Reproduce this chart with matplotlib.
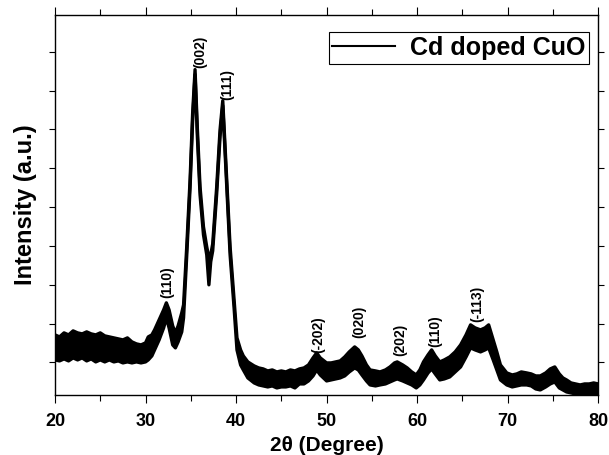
import matplotlib.pyplot as plt
from matplotlib.ticker import MultipleLocator

# 2theta positions and top / bottom of the noisy band (intensity, a.u.)
two_theta = [20.0, 20.5, 21.0, 21.5, 22.0, 22.5, 23.0, 23.5, 24.0, 24.5,
             25.0, 25.5, 26.0, 26.5, 27.0, 27.5, 28.0, 28.5, 29.0, 29.5,
             30.0, 30.3, 30.7, 31.0, 31.5, 32.0, 32.3, 32.6, 33.0, 33.3,
             33.6, 34.0, 34.2, 34.55, 34.92, 35.2, 35.47, 35.73, 36.02, 36.4,
             36.76, 37.0, 37.2, 37.42, 37.86, 38.23, 38.53, 38.97, 39.34, 39.78,
             40.1, 40.5, 40.8, 41.3, 42.0, 42.5, 43.0, 43.5, 44.0, 44.5,
             45.0, 45.5, 46.0, 46.5, 47.0, 47.5, 48.0, 48.5, 48.9, 49.3,
             50.0, 50.5, 51.0, 51.5, 52.0, 52.5, 53.1, 53.5, 53.9, 54.4,
             54.8, 55.4, 55.9, 56.5, 57.0, 57.5, 57.8, 58.4, 58.9, 59.4,
             59.9, 60.3, 60.7, 61.2, 61.6, 62.0, 62.5, 63.0, 63.6, 64.2,
             64.8, 65.4, 65.9, 66.4, 67.0, 67.5, 67.9, 68.4, 68.8, 69.2,
             69.9, 70.5, 71.0, 71.5, 72.1, 72.6, 73.1, 73.6, 74.2, 74.7,
             75.2, 75.7, 76.1, 76.5, 77.0, 77.5, 78.0, 78.5, 79.0, 79.5, 80.0]
upper = [60, 58, 62, 60, 64, 62, 61, 63, 61, 60,
         62, 59, 58, 57, 56, 55, 57, 53, 51, 50,
         52, 58, 60, 65, 75, 85, 92, 85, 69, 62,
         69, 82, 90, 148, 215, 281, 325, 265, 208, 168,
         148, 137, 140, 151, 208, 265, 294, 215, 148, 95,
         57, 45, 39, 33, 29, 27, 26, 24, 25, 23,
         24, 23, 25, 24, 26, 27, 30, 37, 42, 37,
         32, 32, 33, 34, 38, 43, 48, 45, 39, 30,
         25, 24, 23, 25, 28, 32, 33, 30, 27, 23,
         20, 25, 33, 40, 45, 39, 33, 35, 38, 43,
         50, 60, 70, 67, 65, 67, 70, 55, 43, 30,
         22, 20, 21, 23, 22, 21, 19, 19, 22, 26,
         28, 21, 17, 15, 12, 11, 10, 11, 11, 12, 11]
lower = [35, 34, 36, 34, 37, 35, 37, 34, 36, 33,
         35, 33, 35, 33, 34, 32, 33, 32, 33, 32,
         33, 35, 39, 45, 55, 67, 77, 67, 50, 47,
         53, 63, 77, 139, 207, 273, 320, 257, 200, 160,
         140, 110, 133, 144, 201, 258, 289, 207, 140, 87,
         45, 30, 25, 17, 12, 10, 9, 8, 9, 7,
         8, 8, 9, 7, 11, 11, 14, 19, 25, 20,
         14, 15, 16, 17, 19, 23, 27, 25, 20, 14,
         10, 9, 10, 11, 13, 15, 16, 14, 12, 10,
         7, 10, 15, 22, 26, 21, 15, 16, 18, 23,
         28, 38, 47, 45, 43, 45, 47, 35, 25, 15,
         10, 8, 9, 10, 10, 9, 6, 5, 8, 11,
         13, 7, 5, 3, 2, 1, 1, 0, 1, 1, 0]

# peak labels (hkl) and where their lower end sits
peak_labels = ['(110)', '(002)', '(111)', '(-202)', '(020)', '(202)', '(110)', '(-113)']
label_x = [32.45, 36.0, 39.0, 49.1, 53.6, 58.1, 62.0, 66.6]
label_y = [97, 327, 295, 42, 57, 39, 48, 73]

plt.rcParams['font.family'] = ['Liberation Sans', 'DejaVu Sans']
plt.rcParams['font.weight'] = 'bold'

fig = plt.figure(figsize=(6.09, 4.55), dpi=100)
ax = fig.add_axes([0.0903, 0.132, 0.892, 0.836])

ax.fill_between(two_theta, lower, upper, color='black', lw=0)
ax.plot(two_theta, upper, color='black', lw=2.4)
ax.plot(two_theta, lower, color='black', lw=2.4)
ax.plot([], [], color='black', lw=1.5, label='Cd doped CuO')

for lab, px, py in zip(peak_labels, label_x, label_y):
    ax.text(px, py, lab, rotation=90, ha='center', va='bottom',
            fontsize=10, fontweight='bold')

ax.set_xlim(20, 80)
ax.set_ylim(0, 380)
ax.xaxis.set_major_locator(MultipleLocator(10))
ax.xaxis.set_minor_locator(MultipleLocator(5))
ax.yaxis.set_major_locator(MultipleLocator(38.8, offset=32.5))
ax.tick_params(which='both', direction='out', top=True, right=True, labelleft=False,
               width=0.8, labelsize=13, pad=7)
ax.tick_params(which='major', length=6)
ax.tick_params(which='minor', length=4)
ax.tick_params(axis='y', which='major', length=4)
for lbl in ax.get_xticklabels():
    lbl.set_fontweight('bold')
for sp in ax.spines.values():
    sp.set_linewidth(1.0)

ax.set_xlabel('2θ (Degree)', fontsize=15, fontweight='bold', labelpad=4)
ax.set_ylabel('Intensity (a.u.)', fontsize=17, fontweight='bold', labelpad=9)

leg = ax.legend(loc='upper right', bbox_to_anchor=(0.983, 0.953), fontsize=18,
                frameon=True, fancybox=False, edgecolor='black', framealpha=1,
                handlelength=2.5, borderpad=0.15, handletextpad=0.6, borderaxespad=0)
leg.get_frame().set_linewidth(0.8)
for t in leg.get_texts():
    t.set_fontweight('bold')

fig.savefig('out.png', dpi=100)
